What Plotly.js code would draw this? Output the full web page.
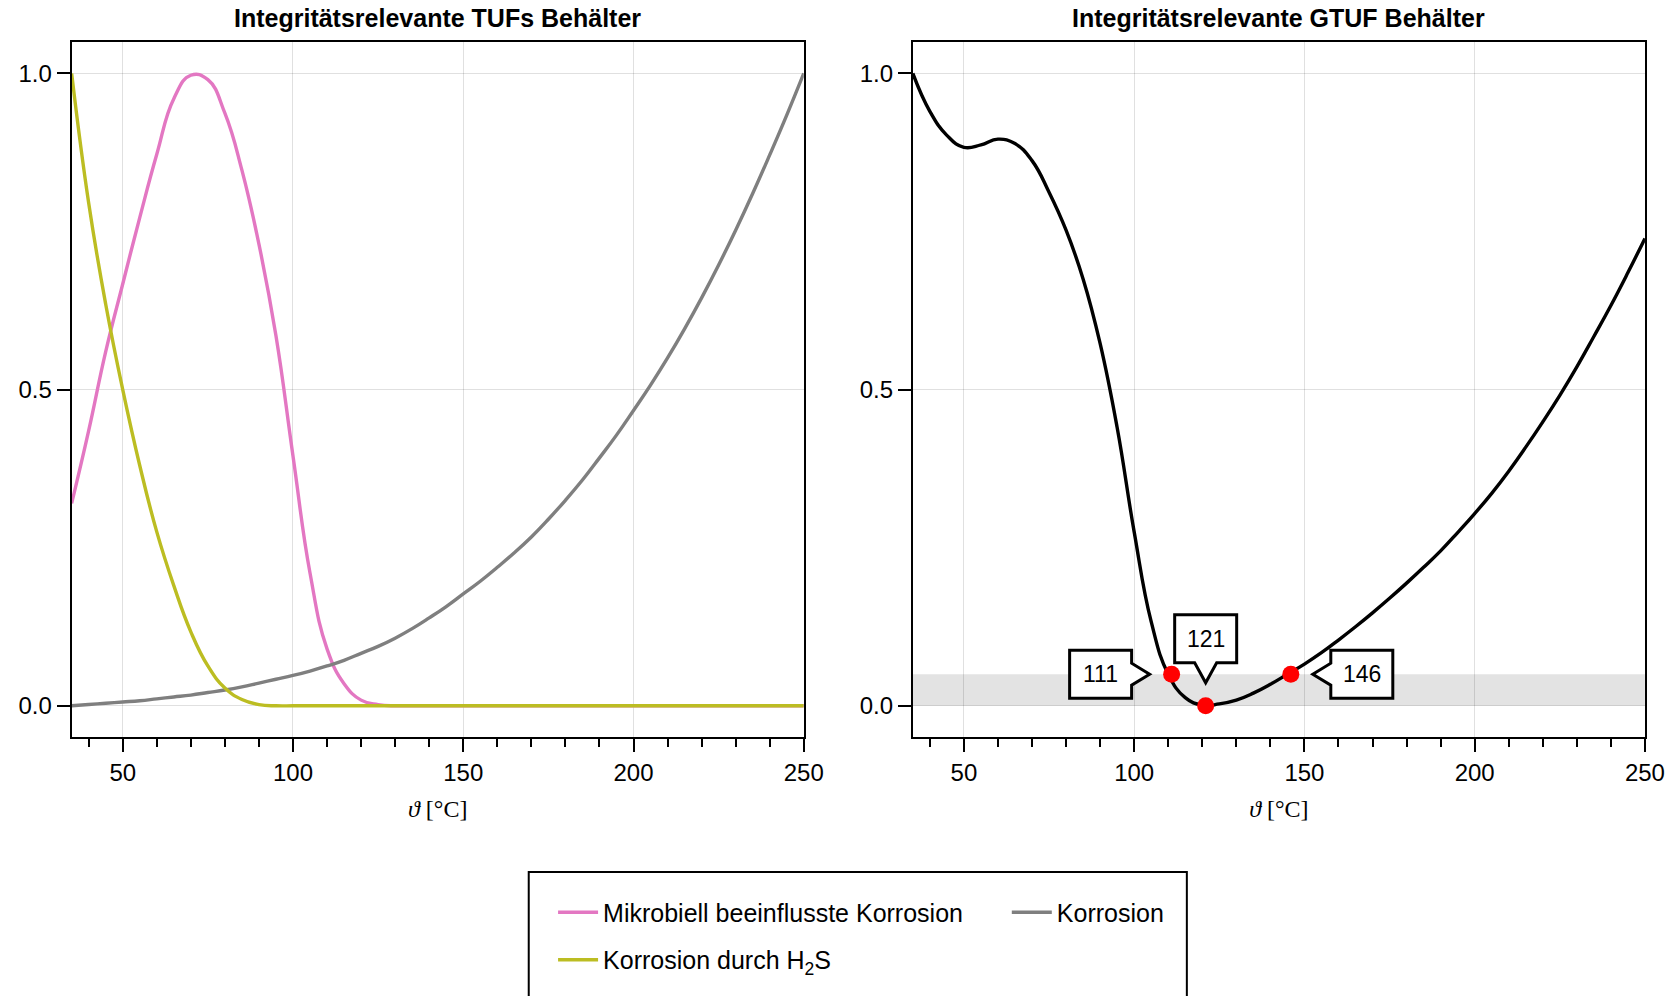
<!DOCTYPE html>
<html>
<head>
<meta charset="utf-8">
<script src="https://cdn.plot.ly/plotly-3.0.1.min.js"></script>
<style>html,body{margin:0;padding:0;background:#fff}#chart{width:1678px;height:996px}</style>
</head>
<body>
<div id="chart"></div>
<script>
// ---- data ----
const temperature = [35,40,45,50,55,60,65,70,75,80,85,90,95,100,105,110,115,120,125,130,135,140,145,150,155,160,165,170,175,180,185,190,195,200,205,210,215,220,225,230,235,240,245,250];
const microbial = [0.32,0.435,0.56,0.667,0.772,0.872,0.96,0.997,0.99,0.937,0.847,0.73,0.585,0.395,0.21,0.09,0.035,0.009,0.002,0,0,0,0,0,0,0,0,0,0,0,0,0,0,0,0,0,0,0,0,0,0,0,0,0];
const corrosion = [0,0.002,0.004,0.006,0.008,0.011,0.014,0.017,0.021,0.025,0.03,0.036,0.042,0.048,0.055,0.063,0.072,0.083,0.094,0.107,0.122,0.139,0.157,0.177,0.197,0.219,0.242,0.267,0.295,0.325,0.357,0.392,0.428,0.467,0.507,0.55,0.596,0.645,0.697,0.752,0.81,0.871,0.934,1.0];
const h2s = [1.0,0.795,0.635,0.5,0.38,0.275,0.19,0.117,0.063,0.028,0.01,0.002,0,0,0,0,0,0,0,0,0,0,0,0,0,0,0,0,0,0,0,0,0,0,0,0,0,0,0,0,0,0,0,0];
const gtuf = [1.0,0.94,0.902,0.883,0.887,0.896,0.889,0.862,0.812,0.752,0.675,0.573,0.44,0.275,0.133,0.05,0.013,0.001,0.003,0.009,0.02,0.034,0.05,0.066,0.084,0.104,0.125,0.147,0.17,0.194,0.219,0.245,0.274,0.304,0.336,0.371,0.409,0.449,0.491,0.536,0.584,0.633,0.685,0.739];
const markT = [111,121,146];
const markV = [0.05,0.0,0.05];
const threshold = 0.05;
const seriesNames = ['Mikrobiell beeinflusste Korrosion','Korrosion','Korrosion durch H<sub>2</sub>S'];
const panelTitles = ['Integritätsrelevante TUFs Behälter','Integritätsrelevante GTUF Behälter'];
const xTitle = '<i>ϑ</i> [°C]';
const xTickVals = [50,100,150,200,250];
const yTickVals = [0,0.5,1.0];

// ---- styles ----
const FONT = 'Liberation Sans, Arial, sans-serif';
const colors = {pink:'#e377c2', gray:'#7f7f7f', olive:'#bcbd22', black:'#000000'};

function xAxis(domain){
  return {domain:domain, range:[35,250], tickvals:xTickVals, ticks:'outside', ticklen:13, tickwidth:2, tickcolor:'#000',
    showline:true, linecolor:'#000', linewidth:2, mirror:true, showgrid:true, gridcolor:'rgba(0,0,0,0.12)', gridwidth:1,
    zeroline:false, automargin:false, tickfont:{family:FONT, size:24, color:'#000'},
    minor:{dtick:10, tick0:0, ticks:'outside', ticklen:8, tickwidth:2, tickcolor:'#000', showgrid:false},
    title:{text:xTitle, font:{family:'Liberation Serif, DejaVu Serif, serif', size:24, color:'#000'}, standoff:15}};
}
function yAxis(domain, anchor){
  return {domain:domain, anchor:anchor, range:[-0.05,1.05], tickvals:yTickVals, tickformat:'.1f', ticks:'outside', ticklen:13, tickwidth:2, tickcolor:'#000',
    showline:true, linecolor:'#000', linewidth:2, mirror:true, showgrid:true, gridcolor:'rgba(0,0,0,0.12)', gridwidth:1,
    zeroline:false, automargin:false, tickfont:{family:FONT, size:24, color:'#000'}};
}

const lineStyle = (c)=>({color:c, width:3.4, shape:'spline', smoothing:1.3});

const traces = [
  {x:temperature, y:microbial, name:seriesNames[0], mode:'lines', line:lineStyle(colors.pink), xaxis:'x', yaxis:'y', legend:'legend', legendgroup:'a'},
  {x:temperature, y:corrosion, name:seriesNames[1], mode:'lines', line:lineStyle(colors.gray), xaxis:'x', yaxis:'y', legend:'legend2', legendgroup:'c'},
  {x:temperature, y:h2s, name:seriesNames[2], mode:'lines', line:lineStyle(colors.olive), xaxis:'x', yaxis:'y', legend:'legend', legendgroup:'b'},
  {x:temperature, y:gtuf, name:'GTUF', mode:'lines', line:lineStyle(colors.black), xaxis:'x2', yaxis:'y2', showlegend:false},
  {x:markT, y:markV, mode:'markers', marker:{color:'#ff0000', size:17}, xaxis:'x2', yaxis:'y2', showlegend:false}
];

// callout bubble outlines (pixel offsets from the marked point, y up)
const calloutPaths = [
  'M-102,24 L-40,24 L-40,11 L-22,0 L-40,-11 L-40,-24 L-102,-24 Z',
  'M-31,91 L31,91 L31,43 L11,43 L0,23 L-11,43 L-31,43 Z',
  'M102,24 L40,24 L40,11 L22,0 L40,-11 L40,-24 L102,-24 Z'
];
const calloutText = [[-71,0],[0,67],[71,0]];

const shapes = [
  {type:'rect', xref:'x2', yref:'y2', x0:35, x1:250, y0:0, y1:threshold, fillcolor:'#e3e3e3', line:{width:0}, layer:'below'},
  {type:'rect', xref:'paper', yref:'paper', x0:0.3151, x1:0.7073, y0:-0.05, y1:0.1245, line:{color:'#000', width:2}, fillcolor:'rgba(0,0,0,0)'}
];
const annotations = [
  {xref:'paper', yref:'paper', x:0.2608, y:0.9817, xanchor:'center', yanchor:'middle', showarrow:false, text:'<b>'+panelTitles[0]+'</b>', font:{family:FONT, size:25, color:'#000'}},
  {xref:'paper', yref:'paper', x:0.7622, y:0.9817, xanchor:'center', yanchor:'middle', showarrow:false, text:'<b>'+panelTitles[1]+'</b>', font:{family:FONT, size:25, color:'#000'}}
];
markT.forEach((t,i)=>{
  shapes.push({type:'path', xref:'x2', yref:'y2', xsizemode:'pixel', ysizemode:'pixel', xanchor:t, yanchor:markV[i],
    path:calloutPaths[i], fillcolor:'#ffffff', line:{color:'#000', width:3}, layer:'above'});
  annotations.push({xref:'x2', yref:'y2', x:t, y:markV[i], xshift:calloutText[i][0], yshift:calloutText[i][1], showarrow:false,
    text:String(t), font:{family:FONT, size:23, color:'#000'}, xanchor:'center', yanchor:'middle'});
});

const yDom = [0.2596, 0.9581];
const layout = {
  width:1678, height:996, margin:{l:0, r:0, t:0, b:0, pad:0},
  paper_bgcolor:'#fff', plot_bgcolor:'#fff',
  font:{family:FONT, color:'#000'},
  xaxis:xAxis([0.0427,0.4790]), yaxis:yAxis(yDom,'x'),
  xaxis2:xAxis([0.5440,0.9803]), yaxis2:yAxis(yDom,'x2'),
  showlegend:true,
  legend:{x:0.3296, y:0.107, xanchor:'left', yanchor:'top', orientation:'v', itemwidth:40, font:{family:FONT, size:25, color:'#000'}, bgcolor:'rgba(0,0,0,0)', borderwidth:0, tracegroupgap:12, traceorder:'grouped'},
  legend2:{x:0.6000, y:0.107, xanchor:'left', yanchor:'top', orientation:'v', itemwidth:40, font:{family:FONT, size:25, color:'#000'}, bgcolor:'rgba(0,0,0,0)', borderwidth:0},
  shapes:shapes, annotations:annotations, hovermode:false
};
Plotly.newPlot('chart', traces, layout, {staticPlot:true, displayModeBar:false});
</script>
</body>
</html>
